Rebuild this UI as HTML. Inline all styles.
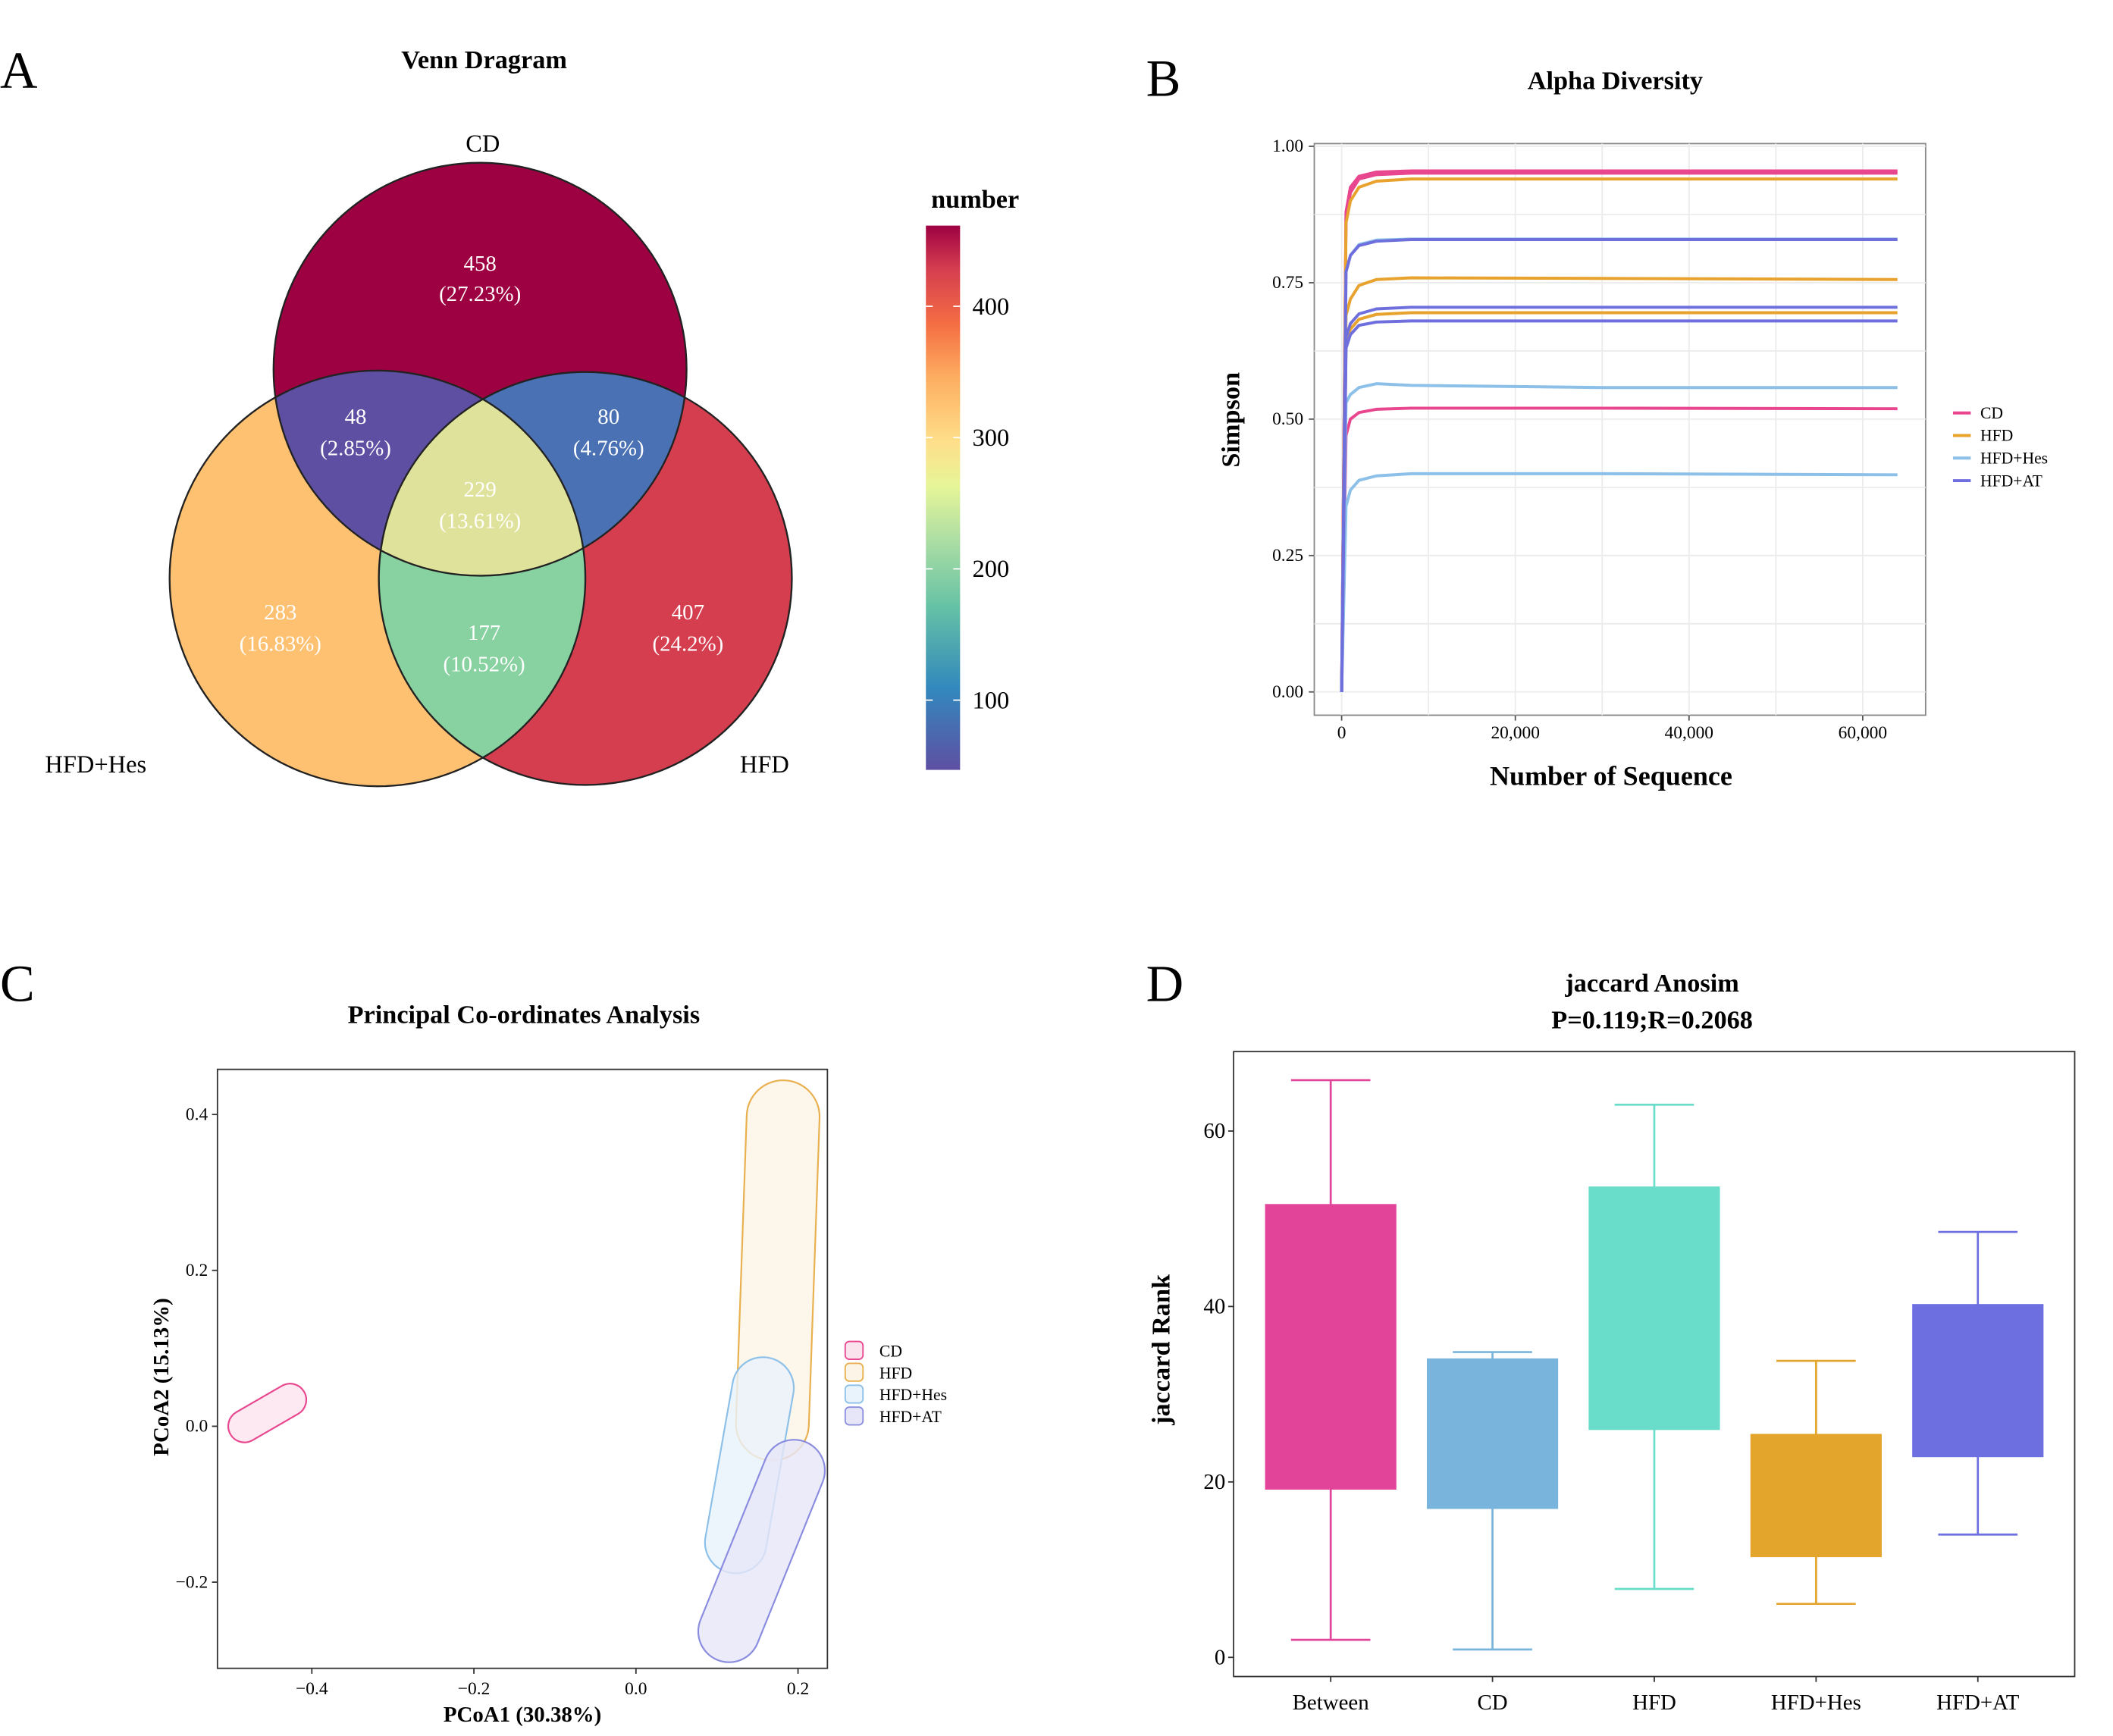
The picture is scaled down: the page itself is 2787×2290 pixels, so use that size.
<!DOCTYPE html>
<html><head><meta charset="utf-8"><style>
html,body{margin:0;padding:0;background:#fff}
svg{display:block;font-family:"Liberation Serif",serif}
</style></head><body>
<svg id="fig" width="2787" height="2290" viewBox="0 0 1545 1269.5" xmlns="http://www.w3.org/2000/svg">
<defs>
<linearGradient id="spec" x1="0" y1="1" x2="0" y2="0">
<stop offset="0" stop-color="#5e4fa2"/><stop offset="0.15" stop-color="#3288bd"/><stop offset="0.3" stop-color="#66c2a5"/><stop offset="0.42" stop-color="#abdda4"/><stop offset="0.52" stop-color="#e6f598"/><stop offset="0.6" stop-color="#fee08b"/><stop offset="0.72" stop-color="#fdae61"/><stop offset="0.82" stop-color="#f46d43"/><stop offset="0.92" stop-color="#d53e4f"/><stop offset="1" stop-color="#9e0142"/>
</linearGradient>
<clipPath id="cCD"><circle cx="351" cy="270" r="151"/></clipPath>
<clipPath id="cHes"><circle cx="276" cy="423" r="152"/></clipPath>
<clipPath id="cHFD"><circle cx="428" cy="423" r="151"/></clipPath>
<clipPath id="pcClip"><rect x="159" y="782" width="446" height="438"/></clipPath>
</defs>

<text x="0" y="64" font-size="38">A</text>
<text x="838" y="70" font-size="38">B</text>
<text x="0" y="732" font-size="38">C</text>
<text x="838" y="732" font-size="38">D</text>

<g>
<text x="354" y="50" font-size="19" font-weight="bold" text-anchor="middle">Venn Dragram</text>
<circle cx="351" cy="270" r="151" fill="#9e0142"/>
<circle cx="276" cy="423" r="152" fill="#fdc171"/>
<circle cx="428" cy="423" r="151" fill="#d53e4f"/>
<g clip-path="url(#cCD)"><circle cx="276" cy="423" r="152" fill="#5f4fa2"/><circle cx="428" cy="423" r="151" fill="#4a71b3"/></g>
<g clip-path="url(#cHes)"><circle cx="428" cy="423" r="151" fill="#88d1a0"/></g>
<g clip-path="url(#cCD)"><g clip-path="url(#cHes)"><circle cx="428" cy="423" r="151" fill="#dfe29b"/></g></g>
<g fill="none" stroke="#222" stroke-width="1.3">
<circle cx="351" cy="270" r="151"/><circle cx="276" cy="423" r="152"/><circle cx="428" cy="423" r="151"/></g>
<g fill="#fff" font-size="16" text-anchor="middle">
<text x="351" y="198">458</text><text x="351" y="220">(27.23%)</text>
<text x="260" y="310">48</text><text x="260" y="333">(2.85%)</text>
<text x="445" y="310">80</text><text x="445" y="333">(4.76%)</text>
<text x="351" y="363">229</text><text x="351" y="386">(13.61%)</text>
<text x="205" y="453">283</text><text x="205" y="476">(16.83%)</text>
<text x="354" y="468">177</text><text x="354" y="491">(10.52%)</text>
<text x="503" y="453">407</text><text x="503" y="476">(24.2%)</text>
</g>
<text x="353" y="111" font-size="18" text-anchor="middle">CD</text>
<text x="70" y="565" font-size="18" text-anchor="middle">HFD+Hes</text>
<text x="559" y="565" font-size="18" text-anchor="middle">HFD</text>
<text x="713" y="152" font-size="19" font-weight="bold" text-anchor="middle">number</text>
<rect x="677" y="165" width="25" height="398" fill="url(#spec)"/>
<g stroke="#fff">
<line x1="677" y1="224" x2="682" y2="224"/><line x1="697" y1="224" x2="702" y2="224"/>
<line x1="677" y1="320" x2="682" y2="320"/><line x1="697" y1="320" x2="702" y2="320"/>
<line x1="677" y1="416" x2="682" y2="416"/><line x1="697" y1="416" x2="702" y2="416"/>
<line x1="677" y1="512" x2="682" y2="512"/><line x1="697" y1="512" x2="702" y2="512"/>
</g>
<g font-size="18"><text x="711" y="230">400</text><text x="711" y="326">300</text><text x="711" y="422">200</text><text x="711" y="518">100</text></g>
</g>

<g id="pb">
<text x="1181" y="65" font-size="19" font-weight="bold" text-anchor="middle">Alpha Diversity</text>
<rect x="961" y="105" width="447" height="418" fill="#fff" stroke="#888"/>
<g id="pbgrid"></g><g id="pblines"></g><g id="pbaxes" font-size="13"></g>
<text x="1178" y="574" font-size="20" font-weight="bold" text-anchor="middle">Number of Sequence</text>
<text transform="translate(906,307) rotate(-90)" font-size="19" font-weight="bold" text-anchor="middle">Simpson</text>
<g id="pblegend" font-size="12"></g>
</g>

<g>
<text x="383" y="748" font-size="19" font-weight="bold" text-anchor="middle">Principal Co-ordinates Analysis</text>
<rect x="159" y="782" width="446" height="438" fill="#fff" stroke="#333"/>
<g id="pcell" clip-path="url(#pcClip)"></g><g id="pcaxes" font-size="13"></g>
<text x="382" y="1259" font-size="16" font-weight="bold" text-anchor="middle">PCoA1 (30.38%)</text>
<text transform="translate(123,1007) rotate(-90)" font-size="16" font-weight="bold" text-anchor="middle">PCoA2 (15.13%)</text>
<g id="pclegend" font-size="12"></g>
</g>

<g>
<text x="1208" y="725" font-size="19" font-weight="bold" text-anchor="middle">jaccard Anosim</text>
<text x="1208" y="752" font-size="19" font-weight="bold" text-anchor="middle">P=0.119;R=0.2068</text>
<rect x="902" y="769" width="615" height="457" fill="#fff" stroke="#333"/>
<g id="pdbox"></g><g id="pdaxes" font-size="16"></g>
<text transform="translate(855,987) rotate(-90)" font-size="19" font-weight="bold" text-anchor="middle">jaccard Rank</text>
</g>
</svg>
<script>
// ---- Panel B data ----
const bX = [0, 500, 1000, 2000, 4000, 8000, 30000, 64000];
const bCD1 = [0, 0.88, 0.925, 0.945, 0.953, 0.955, 0.955, 0.955];
const bCD2 = [0, 0.87, 0.915, 0.94, 0.948, 0.951, 0.951, 0.951];
const bCD3 = [0, 0.47, 0.5, 0.512, 0.518, 0.52, 0.52, 0.519];
const bHFD1 = [0, 0.86, 0.9, 0.925, 0.936, 0.94, 0.94, 0.94];
const bHFD2 = [0, 0.69, 0.72, 0.745, 0.756, 0.759, 0.758, 0.756];
const bHFD3 = [0, 0.64, 0.665, 0.683, 0.692, 0.695, 0.695, 0.695];
const bHes1 = [0, 0.77, 0.8, 0.82, 0.828, 0.83, 0.83, 0.83];
const bHes2 = [0, 0.53, 0.545, 0.558, 0.565, 0.562, 0.558, 0.558];
const bHes3 = [0, 0.34, 0.37, 0.388, 0.396, 0.4, 0.4, 0.398];
const bAT1 = [0, 0.77, 0.8, 0.818, 0.826, 0.829, 0.829, 0.829];
const bAT2 = [0, 0.65, 0.675, 0.693, 0.702, 0.705, 0.705, 0.705];
const bAT3 = [0, 0.63, 0.655, 0.672, 0.678, 0.68, 0.68, 0.68];
const bGroups = ["CD", "HFD", "HFD+Hes", "HFD+AT"];
const bColors = ["#e8478f", "#e8a22e", "#8cc0e8", "#6e6fdc"];
const bSeries = [[bCD1,0],[bCD2,0],[bCD3,0],[bHFD1,1],[bHFD2,1],[bHFD3,1],[bHes1,2],[bHes2,2],[bHes3,2],[bAT1,3],[bAT2,3],[bAT3,3]];
const bXTicks = [0, 20000, 40000, 60000];
const bXTickLabels = ["0", "20,000", "40,000", "60,000"];
const bYTicks = [0, 0.25, 0.5, 0.75, 1.0];
const bYTickLabels = ["0.00", "0.25", "0.50", "0.75", "1.00"];

// ---- Panel C data ----
const cGroups = ["CD", "HFD", "HFD+Hes", "HFD+AT"];
const cColors = ["#e8478f", "#e8b04e", "#8cc0e8", "#8a8ce0"];
const cFills = ["#fbe3ee", "#fcf4e6", "#e9f3fb", "#e6e6f8"];
const cCenterX = [-0.455, 0.175, 0.14, 0.155];
const cCenterY = [0.017, 0.2, -0.05, -0.16];
const cHalfLen = [0.053, 0.244, 0.14, 0.15];
const cHalfWid = [0.02, 0.045, 0.038, 0.038];
const cAngle = [30, 88, 80, 68];
const cXTicks = [-0.4, -0.2, 0.0, 0.2];
const cXTickLabels = ["\u22120.4", "\u22120.2", "0.0", "0.2"];
const cYTicks = [-0.2, 0.0, 0.2, 0.4];
const cYTickLabels = ["\u22120.2", "0.0", "0.2", "0.4"];

// ---- Panel D data ----
const dCats = ["Between", "CD", "HFD", "HFD+Hes", "HFD+AT"];
const dMin = [2.0, 0.9, 7.8, 6.1, 14.0];
const dQ1 = [19.2, 17.0, 26.0, 11.5, 22.9];
const dQ3 = [51.6, 34.0, 53.6, 25.4, 40.2];
const dMax = [65.8, 34.8, 63.0, 33.8, 48.5];
const dColors = ["#e2449a", "#78b4db", "#6adcca", "#e4a52c", "#6d6fe0"];
const dYTicks = [0, 20, 40, 60];

const NS = "http://www.w3.org/2000/svg";
function mk(tag, attrs, parent) { const e = document.createElementNS(NS, tag); for (const k in attrs) e.setAttribute(k, attrs[k]); parent.appendChild(e); return e; }

(function(){
  const bx = v => 981 + v * (1362 - 981) / 60000;
  const by = v => 506 - v * (506 - 107);
  const grid = document.getElementById('pbgrid'), ax = document.getElementById('pbaxes');
  [10000,20000,30000,40000,50000,60000].forEach(v => { const l = mk('line',{x1:bx(v),x2:bx(v),y1:105,y2:523,stroke:'#ececec'},grid);   });
  mk('line',{x1:bx(0),x2:bx(0),y1:105,y2:523,stroke:'#ececec'},grid);
  [0,0.125,0.25,0.375,0.5,0.625,0.75,0.875,1].forEach(v => { const l = mk('line',{x1:961,x2:1408,y1:by(v),y2:by(v),stroke:'#ececec'},grid);   });
  bXTicks.forEach((v,i) => { mk('line',{x1:bx(v),x2:bx(v),y1:523,y2:527,stroke:'#555'},ax); const t = mk('text',{x:bx(v),y:540,'text-anchor':'middle'},ax); t.textContent = bXTickLabels[i];   });
  bYTicks.forEach((v,i) => { mk('line',{x1:957,x2:961,y1:by(v),y2:by(v),stroke:'#555'},ax); const t = mk('text',{x:953,y:by(v)+4,'text-anchor':'end'},ax); t.textContent = bYTickLabels[i];   });
  const lg = document.getElementById('pblines');
  bSeries.forEach(s => { const d = s[0].map((v,i)=>(i?'L':'M')+bx(bX[i]).toFixed(1)+','+by(v).toFixed(1)).join(' ');
    const p = mk('path',{d:d,fill:'none',stroke:bColors[s[1]],'stroke-width':2.2,'stroke-linejoin':'round'},lg);
      });
  const leg = document.getElementById('pblegend');
  bGroups.forEach((g,i) => { const y = 302 + i*16.5; mk('line',{x1:1428,x2:1441,y1:y,y2:y,stroke:bColors[i],'stroke-width':2.2},leg);
    const t = mk('text',{x:1448,y:y+4},leg); t.textContent = g;   });
})();

(function(){
  const cx = v => 465 + v * 592.5, cy = v => 1043 - v * 570;
  const ax = document.getElementById('pcaxes');
  cXTicks.forEach((v,i) => { mk('line',{x1:cx(v),x2:cx(v),y1:1220,y2:1224,stroke:'#333'},ax); const t = mk('text',{x:cx(v),y:1239,'text-anchor':'middle'},ax); t.textContent = cXTickLabels[i];   });
  cYTicks.forEach((v,i) => { mk('line',{x1:155,x2:159,y1:cy(v),y2:cy(v),stroke:'#333'},ax); const t = mk('text',{x:152,y:cy(v)+4,'text-anchor':'end'},ax); t.textContent = cYTickLabels[i];   });
  const g = document.getElementById('pcell');
  cGroups.forEach((n,i) => {
    const px = cx(cCenterX[i]), py = cy(cCenterY[i]);
    const a = cAngle[i] * Math.PI / 180;
    const L = cHalfLen[i] * Math.hypot(592.5*Math.cos(a), 570*Math.sin(a));
    const W = cHalfWid[i] * 592.5;
    const e = mk('rect',{x:px-L,y:py-W,width:2*L,height:2*W,rx:W,ry:W,fill:cFills[i],'fill-opacity':0.8,stroke:cColors[i],'stroke-width':1.2,transform:`rotate(${-cAngle[i]},${px},${py})`},g);
     
  });
  const leg = document.getElementById('pclegend');
  cGroups.forEach((n,i) => { const y = 981 + i*16; mk('rect',{x:618,y:y,width:13,height:13,rx:3,fill:cFills[i],stroke:cColors[i]},leg);
    const t = mk('text',{x:643,y:y+11},leg); t.textContent = n;   });
})();

(function(){
  const dx = i => 973 + i * 118.3, dy = v => 1212 - v * 6.415;
  const ax = document.getElementById('pdaxes');
  dYTicks.forEach(v => { mk('line',{x1:898,x2:902,y1:dy(v),y2:dy(v),stroke:'#333'},ax); const t = mk('text',{x:896,y:dy(v)+5,'text-anchor':'end'},ax); t.textContent = v;   });
  const g = document.getElementById('pdbox');
  dCats.forEach((c,i) => {
    const x = dx(i), w = 95, col = dColors[i];
    mk('line',{x1:x,x2:x,y1:dy(dMax[i]),y2:dy(dMin[i]),stroke:col,'stroke-width':1.5},g);
    mk('line',{x1:x-29,x2:x+29,y1:dy(dMax[i]),y2:dy(dMax[i]),stroke:col,'stroke-width':1.5},g);
    mk('line',{x1:x-29,x2:x+29,y1:dy(dMin[i]),y2:dy(dMin[i]),stroke:col,'stroke-width':1.5},g);
    const r = mk('rect',{x:x-w/2,y:dy(dQ3[i]),width:w,height:dy(dQ1[i])-dy(dQ3[i]),fill:col,stroke:col},g);
     
    mk('line',{x1:x,x2:x,y1:1226,y2:1230,stroke:'#333'},ax);
    const t = mk('text',{x:x,y:1250,'text-anchor':'middle'},ax); t.textContent = c;  
  });
})();
</script>
</body></html>
